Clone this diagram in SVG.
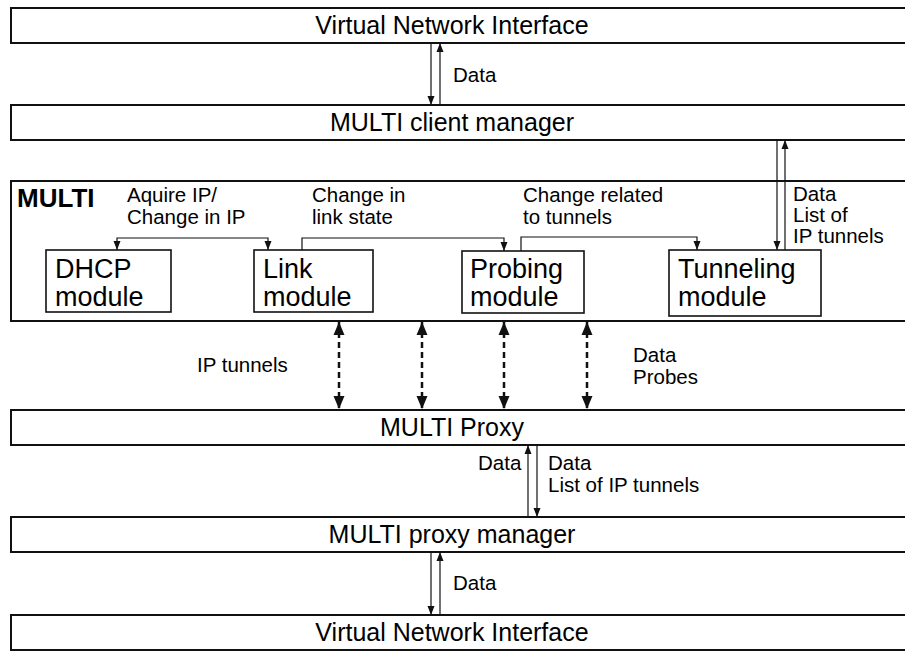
<svg xmlns="http://www.w3.org/2000/svg" width="905" height="651" viewBox="0 0 905 651">
<style>
.bar{fill:#fff;stroke:#111;stroke-width:2}
.mod{fill:#fff;stroke:#111;stroke-width:1.6}
.big{font-family:"Liberation Sans",Arial,sans-serif;font-size:25px;fill:#000;text-anchor:middle}
.mt{font-family:"Liberation Sans",Arial,sans-serif;font-size:27px;fill:#000}
.lb{font-family:"Liberation Sans",Arial,sans-serif;font-size:20.5px;fill:#000}
.title{font-family:"Liberation Sans",Arial,sans-serif;font-size:26px;font-weight:bold;fill:#000}
.thin{fill:none;stroke:#111;stroke-width:1.2}
.dash{fill:none;stroke:#111;stroke-width:2.5;stroke-dasharray:6 4}
</style>
<defs>
<marker id="a" markerUnits="userSpaceOnUse" markerWidth="10" markerHeight="8" refX="9" refY="3.5" orient="auto" overflow="visible"><path d="M0,0 L9,3.5 L0,7 z" fill="#111"/></marker>
<marker id="b" markerUnits="userSpaceOnUse" markerWidth="14" markerHeight="12" refX="13" refY="5.5" orient="auto-start-reverse" overflow="visible"><path d="M0,0 L13,5.5 L0,11 z" fill="#111"/></marker>
</defs>
<g id="vni-top"><rect class="bar" x="11" y="8" width="1000" height="35"/><text class="big" x="452" y="34">Virtual Network Interface</text></g>
<g id="client-manager"><rect class="bar" x="11" y="105" width="1000" height="35"/><text class="big" x="452" y="131">MULTI client manager</text></g>
<g id="multi"><rect class="bar" x="11" y="181" width="1000" height="140"/><text class="title" x="17" y="207">MULTI</text></g>
<g id="dhcp"><rect class="mod" x="46" y="250" width="125" height="62"/><text class="mt" x="55" y="278">DHCP</text><text class="mt" x="55" y="306">module</text></g>
<g id="link"><rect class="mod" x="254" y="250" width="119" height="62"/><text class="mt" x="263" y="278">Link</text><text class="mt" x="263" y="306">module</text></g>
<g id="probing"><rect class="mod" x="462" y="251" width="122" height="62"/><text class="mt" x="470" y="278">Probing</text><text class="mt" x="470" y="306">module</text></g>
<g id="tunneling"><rect class="mod" x="669" y="250" width="152" height="66"/><text class="mt" x="678" y="278">Tunneling</text><text class="mt" x="678" y="306">module</text></g>
<g id="proxy"><rect class="bar" x="11" y="410" width="1000" height="35"/><text class="big" x="452" y="436">MULTI Proxy</text></g>
<g id="proxy-manager"><rect class="bar" x="11" y="517" width="1000" height="35"/><text class="big" x="452" y="543">MULTI proxy manager</text></g>
<g id="vni-bottom"><rect class="bar" x="11" y="615" width="1000" height="35"/><text class="big" x="452" y="641">Virtual Network Interface</text></g>
<g id="connectors">
<path class="thin" d="M431,43 V105" marker-end="url(#a)"/>
<path class="thin" d="M440,105 V43" marker-end="url(#a)"/>
<path class="thin" d="M777,140 V250" marker-end="url(#a)"/>
<path class="thin" d="M785,250 V140" marker-end="url(#a)"/>
<path class="thin" d="M192,238 H117 V250" marker-end="url(#a)"/>
<path class="thin" d="M192,238 H268 V250" marker-end="url(#a)"/>
<path class="thin" d="M302,250 V238 H504 V251" marker-end="url(#a)"/>
<path class="thin" d="M521,251 V237 H697 V250" marker-end="url(#a)"/>
<path class="dash" d="M339,322 V409" marker-start="url(#b)" marker-end="url(#b)"/>
<path class="dash" d="M422,322 V409" marker-start="url(#b)" marker-end="url(#b)"/>
<path class="dash" d="M504,322 V409" marker-start="url(#b)" marker-end="url(#b)"/>
<path class="dash" d="M587,322 V409" marker-start="url(#b)" marker-end="url(#b)"/>
<path class="thin" d="M528,517 V445" marker-end="url(#a)"/>
<path class="thin" d="M537,445 V517" marker-end="url(#a)"/>
<path class="thin" d="M431,552 V615" marker-end="url(#a)"/>
<path class="thin" d="M440,615 V552" marker-end="url(#a)"/>
</g>
<g id="labels">
<text class="lb" x="453" y="82">Data</text>
<text class="lb" x="127" y="202">Aquire IP/</text>
<text class="lb" x="127" y="224">Change in IP</text>
<text class="lb" x="312" y="202">Change in</text>
<text class="lb" x="312" y="224">link state</text>
<text class="lb" x="523" y="202">Change related</text>
<text class="lb" x="523" y="224">to tunnels</text>
<text class="lb" x="793" y="201">Data</text>
<text class="lb" x="793" y="222">List of</text>
<text class="lb" x="793" y="243">IP tunnels</text>
<text class="lb" x="197" y="372">IP tunnels</text>
<text class="lb" x="633" y="362">Data</text>
<text class="lb" x="633" y="384">Probes</text>
<text class="lb" x="478" y="470">Data</text>
<text class="lb" x="548" y="470">Data</text>
<text class="lb" x="548" y="492">List of IP tunnels</text>
<text class="lb" x="453" y="590">Data</text>
</g>
</svg>
